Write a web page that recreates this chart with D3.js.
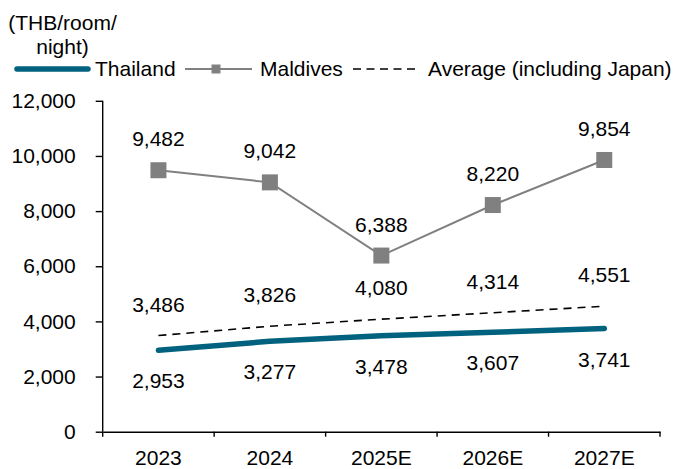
<!DOCTYPE html>
<html>
<head>
<meta charset="utf-8">
<script src="https://cdn.jsdelivr.net/npm/d3@7"></script>
<style>
  html, body { margin: 0; padding: 0; background: #fff; }
  svg { display: block; }
  text { font-family: "Liberation Sans", Arial, sans-serif; fill: #000; }
</style>
</head>
<body>
<svg id="chart" width="680" height="469"></svg>
<script>
// Average room rate, THB per room per night
const years = ["2023", "2024", "2025E", "2026E", "2027E"];
const thailand = [2953, 3277, 3478, 3607, 3741];
const maldives = [9482, 9042, 6388, 8220, 9854];
const average = [3486, 3826, 4080, 4314, 4551];
const yTicks = [0, 2000, 4000, 6000, 8000, 10000, 12000];
const unitLines = ["(THB/room/", "night)"];
const seriesNames = ["Thailand", "Maldives", "Average (including Japan)"];

const colors = { thailand: "#00627f", maldives: "#808080", average: "#000" };
const fontSize = 21;

const svg = d3.select("#chart");

const x = d3.scaleBand().domain(years).range([102.7, 660]).padding(0);
const y = d3.scaleLinear().domain([0, 12000]).range([431.7, 100.8]);
const cx = d => x(d) + x.bandwidth() / 2;
const fmt = d3.format(",");

// Y axis
const yAxis = svg.append("g")
  .attr("transform", `translate(${x.range()[0]},0)`)
  .call(d3.axisLeft(y).tickValues(yTicks).tickFormat(fmt).tickSize(7).tickPadding(20));
yAxis.select(".domain").attr("stroke", "#000").attr("stroke-width", 1.4).attr("d", `M0,${y(12000)}V${y(0)}`);
yAxis.selectAll(".tick line").attr("stroke", "#000").attr("stroke-width", 1.4);
yAxis.selectAll(".tick text").attr("font-size", fontSize).attr("font-family", "Liberation Sans, Arial, sans-serif").attr("fill", "#000");

// X axis: labels centred in bands, tick marks at band edges
const xAxis = svg.append("g")
  .attr("transform", `translate(0,${y(0)})`)
  .call(d3.axisBottom(x).tickSize(0).tickPadding(18));
xAxis.select(".domain").attr("stroke", "#000").attr("stroke-width", 1.4);
xAxis.selectAll(".tick text").attr("font-size", fontSize).attr("font-family", "Liberation Sans, Arial, sans-serif").attr("fill", "#000").attr("dy", "0.71em");
const edges = years.map(d => x(d)).concat([x.range()[1]]);
xAxis.selectAll(".edge").data(edges).enter().append("line")
  .attr("class", "edge")
  .attr("x1", d => d).attr("x2", d => d)
  .attr("y1", 0).attr("y2", 5)
  .attr("stroke", "#000").attr("stroke-width", 1.4);

const line = d3.line().x((d, i) => cx(years[i])).y(d => y(d));

// Average (dashed)
svg.append("path").datum(average)
  .attr("d", line).attr("fill", "none")
  .attr("stroke", colors.average).attr("stroke-width", 1.6)
  .attr("stroke-dasharray", "8,6");

// Thailand (thick teal)
svg.append("path").datum(thailand)
  .attr("d", line).attr("fill", "none")
  .attr("stroke", colors.thailand).attr("stroke-width", 5.5)
  .attr("stroke-linecap", "round").attr("stroke-linejoin", "round");

// Maldives (gray line with square markers)
svg.append("path").datum(maldives)
  .attr("d", line).attr("fill", "none")
  .attr("stroke", colors.maldives).attr("stroke-width", 2);
const ms = 16;
svg.selectAll(".mk").data(maldives).enter().append("rect")
  .attr("class", "mk")
  .attr("x", (d, i) => cx(years[i]) - ms / 2)
  .attr("y", d => y(d) - ms / 2)
  .attr("width", ms).attr("height", ms)
  .attr("fill", colors.maldives);

// Value labels
function labels(data, dy, cls) {
  svg.selectAll("." + cls).data(data).enter().append("text")
    .attr("class", cls)
    .attr("x", (d, i) => cx(years[i]))
    .attr("y", d => y(d) + dy)
    .attr("text-anchor", "middle")
    .attr("font-size", fontSize)
    .text(d => fmt(d));
}
labels(maldives, -24, "lbl-m");
labels(average, -24, "lbl-a");
labels(thailand, 38, "lbl-t");

// Unit caption
svg.selectAll(".unit").data(unitLines).enter().append("text")
  .attr("class", "unit")
  .attr("x", 62.5)
  .attr("y", (d, i) => 29.5 + i * 24.5)
  .attr("text-anchor", "middle")
  .attr("font-size", fontSize)
  .text(d => d);

// Legend
const lg = svg.append("g");
const ly = 69, ty = 76;
lg.append("line").attr("x1", 17).attr("x2", 88).attr("y1", ly).attr("y2", ly)
  .attr("stroke", colors.thailand).attr("stroke-width", 5.5).attr("stroke-linecap", "round");
lg.append("text").attr("x", 95).attr("y", ty).attr("font-size", fontSize).text(seriesNames[0]);

lg.append("line").attr("x1", 185).attr("x2", 252).attr("y1", ly).attr("y2", ly)
  .attr("stroke", colors.maldives).attr("stroke-width", 2);
lg.append("rect").attr("x", 216 - 4.5).attr("y", ly - 4.5).attr("width", 9).attr("height", 9)
  .attr("fill", colors.maldives);
lg.append("text").attr("x", 260).attr("y", ty).attr("font-size", fontSize).text(seriesNames[1]);

lg.append("line").attr("x1", 353).attr("x2", 415).attr("y1", ly).attr("y2", ly)
  .attr("stroke", colors.average).attr("stroke-width", 1.6).attr("stroke-dasharray", "8,5.5");
lg.append("text").attr("x", 428).attr("y", ty).attr("font-size", fontSize).text(seriesNames[2]);
</script>
</body>
</html>
